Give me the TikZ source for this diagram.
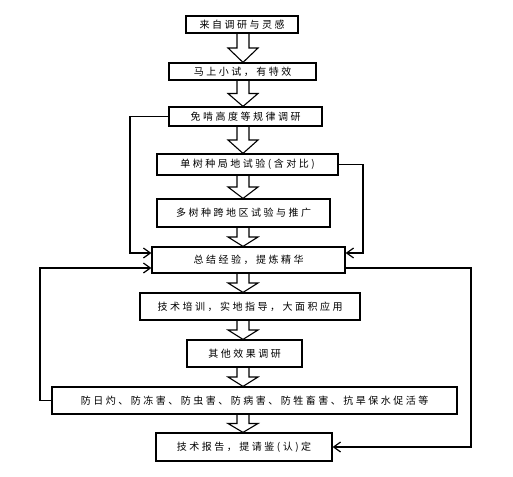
\documentclass[tikz,border=0pt]{standalone}
\usepackage{fontspec}
\setmainfont{Noto Sans CJK SC}[LetterSpace=25]
\usetikzlibrary{arrows.meta,calc}

% hollow block arrow between two stacked boxes
\newcommand{\fatarrow}[2]{%
  \draw[fat] let \p1=(#1.south -| ax), \p2=(#2.north -| ax), \n1={0.5*(\y1-\y2)} in
    (\x1-6pt,\y1) -- (\x1-6pt,\y2+\n1) -- (\x1-15pt,\y2+\n1) -- (\x2,\y2)
    -- (\x1+15pt,\y2+\n1) -- (\x1+6pt,\y2+\n1) -- (\x1+6pt,\y1);}

\begin{document}
\begin{tikzpicture}[x=1pt, y=-1pt,
  box/.style={draw, line width=1.2pt, inner sep=0pt, align=center, font=\fontsize{10}{12}\selectfont},
  fat/.style={line width=1.1pt, line join=miter},
  arr/.style={-{Straight Barb[length=7pt,width=10pt,line width=1.2pt]}, line width=1.1pt}]
  \useasboundingbox (0,0) rectangle (513,476);
  \coordinate (ax) at (243,0);
  \node[box, minimum width=112, minimum height=17] (src) at (242,24.5) {来自调研与灵感};
  \node[box, minimum width=147, minimum height=17] (trial) at (242.5,71.5) {马上小试，有特效};
  \node[box, minimum width=153, minimum height=19] (rule) at (245.5,116.5) {免啃高度等规律调研};
  \node[box, minimum width=181, minimum height=21] (single) at (247.5,164.5) {单树种局地试验(含对比)};
  \node[box, minimum width=173, minimum height=28] (multi) at (243.5,213) {多树种跨地区试验与推广};
  \node[box, minimum width=193, minimum height=26] (sum) at (248.5,260) {总结经验，提炼精华};
  \node[box, minimum width=220, minimum height=27] (train) at (250,306.5) {技术培训，实地指导，大面积应用};
  \node[box, minimum width=115, minimum height=27] (other) at (244.5,353.5) {其他效果调研};
  \node[box, minimum width=405, minimum height=27] (guard) at (254.5,400.5) {防日灼、防冻害、防虫害、防病害、防牲畜害、抗旱保水促活等};
  \node[box, minimum width=176, minimum height=28] (report) at (244,447) {技术报告，提请鉴(认)定};
  \fatarrow{src}{trial}
  \fatarrow{trial}{rule}
  \fatarrow{rule}{single}
  \fatarrow{single}{multi}
  \fatarrow{multi}{sum}
  \fatarrow{sum}{train}
  \fatarrow{train}{other}
  \fatarrow{other}{guard}
  \fatarrow{guard}{report}
  % feedback loops
  \coordinate (l1) at (130,253);
  \coordinate (r1) at (363,253);
  \coordinate (l2) at (40,268);
  \coordinate (r2) at (471,447);
  \draw[arr] (rule.west) -| (l1) -- (l1 -| sum.west);
  \draw[arr] (single.east) -| (r1) -- (r1 -| sum.east);
  \draw[arr] (guard.west) -| (l2) -- (l2 -| sum.west);
  \draw[arr] (sum.east |- 0,268) -| (r2) -- (r2 -| report.east);
\end{tikzpicture}
\end{document}
